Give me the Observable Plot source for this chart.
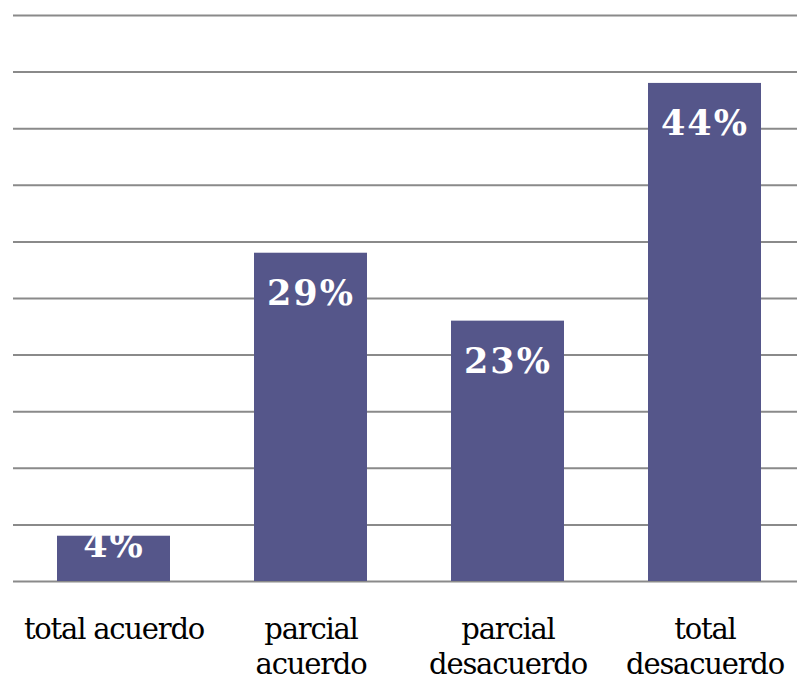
<!DOCTYPE html>
<html>
<head>
<meta charset="utf-8">
<script src="https://cdn.jsdelivr.net/npm/d3@7"></script>
<script src="https://cdn.jsdelivr.net/npm/@observablehq/plot@0.6"></script>
<style>
  html, body { margin: 0; padding: 0; background: #fff; }
  g[aria-label="x-axis tick label"] text { letter-spacing: -1.2px; }
  g.barlabel text { letter-spacing: 2px; }
</style>
</head>
<body>
<div id="chart"></div>
<script>
const categories = ["total acuerdo", "parcial\nacuerdo", "parcial\ndesacuerdo", "total\ndesacuerdo"];
const values = [4, 29, 23, 44];
const yTicks = [0, 5, 10, 15, 20, 25, 30, 35, 40, 45, 50];

const data = categories.map((c, i) => ({cat: c, value: values[i], label: values[i] + "%"}));
const big = data.filter(d => d.value >= 10);
const small = data.filter(d => d.value < 10);

const barColor = "#55568a";
const serif = "'DejaVu Serif', serif";

const chart = Plot.plot({
  width: 798,
  height: 677,
  marginLeft: 13,
  marginRight: 1,
  marginTop: 15,
  marginBottom: 96,
  style: {fontFamily: serif, background: "#fff"},
  x: {domain: categories, range: [16.7, 801.7], paddingInner: 0.425, paddingOuter: 0.2, label: null, axis: null},
  y: {domain: [0, 50], label: null, axis: null},
  marks: [
    Plot.ruleY(yTicks, {stroke: "#8a8a8a", strokeWidth: 2}),
    Plot.barY(data, {x: "cat", y: "value", fill: barColor}),
    Plot.text(big, {x: "cat", y: "value", text: "label", fill: "white", fontWeight: "bold",
      fontFamily: serif, fontSize: 35, lineAnchor: "top", dy: 27, className: "barlabel"}),
    Plot.text(small, {x: "cat", y: "value", text: "label", fill: "white", fontWeight: "bold",
      fontFamily: serif, fontSize: 35, lineAnchor: "bottom", dy: 21, className: "barlabel"}),
    Plot.axisX({tickSize: 0, tickPadding: 33, fontSize: 29, lineHeight: 1.2, fontFamily: serif, fill: "black", label: null}),
  ]
});
document.getElementById("chart").appendChild(chart);
</script>
</body>
</html>
